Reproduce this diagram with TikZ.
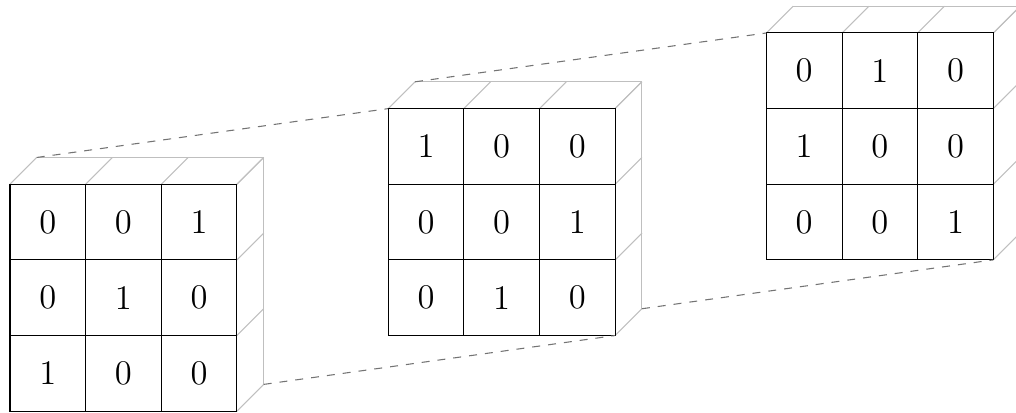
\documentclass[tikz,border=0pt]{standalone}
\newcommand{\cubegrid}[4]{%
  \begin{scope}[shift={(#2,#3)}]
    \foreach \i in {0,...,3} {
      \draw[depth] (\i,3) -- ++(0.354,0.354);
      \draw[depth] (3,\i) -- ++(0.354,0.354);
    }
    \draw[depth] (0.354,3.354) -- (3.354,3.354) -- (3.354,0.354);
    \coordinate (#1-bl) at (0.354,3.354);
    \coordinate (#1-br) at (3.354,0.354);
    \foreach \v [count=\n from 0] in {#4} {
      \pgfmathtruncatemacro{\r}{floor(\n/3)}
      \pgfmathtruncatemacro{\c}{mod(\n,3)}
      \node[cell] (#1-\r\c) at (\c+0.5,2.5-\r) {\v};
    }
  \end{scope}}
\begin{document}
\begin{tikzpicture}[x=1cm,y=1cm,
  cell/.style={draw=black, line width=0.4pt, minimum size=1cm, inner sep=0pt, outer sep=0pt,
    font=\fontsize{13}{15}\selectfont},
  depth/.style={draw=black!25, line width=0.4pt},
  link/.style={draw=black!55, dashed, line width=0.4pt}]
\clip (-0.132,-0.011) rectangle (13.300,5.436);
\cubegrid{g1}{0}{0}{0,0,1,0,1,0,1,0,0}
\cubegrid{g2}{5}{1}{1,0,0,0,0,1,0,1,0}
\cubegrid{g3}{10}{2}{0,1,0,1,0,0,0,0,1}
\draw[link] (g1-bl) -- (g2-00.north west);
\draw[link] (g2-bl) -- (g3-00.north west);
\draw[link] (g1-br) -- (g2-22.south east);
\draw[link] (g2-br) -- (g3-22.south east);
\end{tikzpicture}
\end{document}
